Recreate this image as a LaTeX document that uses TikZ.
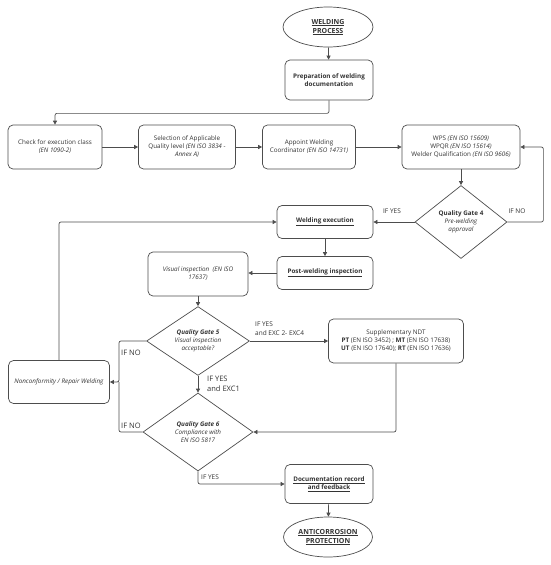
\documentclass[tikz,border=0pt]{standalone}
\usepackage{fontspec}
\setmainfont{Open Sans}
\usetikzlibrary{shapes.geometric,arrows.meta}
\definecolor{lc}{HTML}{4D4D4D}
\definecolor{tc}{HTML}{333333}
\begin{document}
\begin{tikzpicture}[x=1pt,y=-1pt,
 every node/.style={text=tc, font=\fontsize{6.3}{8}\selectfont},
 box/.style={draw=lc, fill=white, line width=0.7pt, rounded corners=5pt, align=center, inner sep=1pt},
 gate/.style={draw=lc, fill=white, line width=0.7pt, diamond, align=center, inner sep=0pt},
 term/.style={draw=lc, fill=white, line width=0.7pt, ellipse, align=center, inner sep=0pt, font=\fontsize{7}{9}\selectfont\bfseries},
 conn/.style={draw=lc, line width=0.7pt, -{Triangle[length=4pt,width=4pt]}, rounded corners=2pt},
 plain/.style={draw=lc, line width=0.7pt, rounded corners=2pt},
 lab/.style={font=\fontsize{6.5}{8.5}\selectfont, align=left, inner sep=0pt},
 labb/.style={font=\fontsize{7.5}{9.5}\selectfont, align=left, inner sep=0pt}]
\useasboundingbox (0,0) rectangle (550,565);
\fill[white] (0,0) rectangle (550,565);

\node[term, minimum width=90pt, minimum height=40pt] (wp) at (328,27) {\underline{WELDING}\\\underline{PROCESS}};
\node[box, font=\fontsize{6.3}{8}\selectfont\bfseries, minimum width=88pt, minimum height=40pt] (prep) at (329,80) {Preparation of welding\\documentation};
\node[box, minimum width=94pt, minimum height=44pt] (check) at (55,147) {Check for execution class\\\textit{(EN 1090-2)}};
\node[box, minimum width=97pt, minimum height=44pt] (sel) at (187,147) {Selection of Applicable\\Quality level \textit{(EN ISO 3834 -}\\\textit{Annex A)}};
\node[box, minimum width=93pt, minimum height=44pt] (app) at (309,147) {Appoint Welding\\Coordinator \textit{(EN ISO 14731)}};
\node[box, minimum width=118pt, minimum height=44pt] (wps) at (461,147) {WPS \textit{(EN ISO 15609)}\\WPQR \textit{(EN ISO 15614)}\\Welder Qualification \textit{(EN ISO 9606)}};
\node[gate, minimum width=92pt, minimum height=73pt] (qg4) at (461,222) {\textbf{Quality Gate 4}\\\textit{Pre-welding}\\\textit{approval}};
\node[box, minimum width=96pt, minimum height=33pt] (we) at (325,222) {\textbf{\underline{Welding execution}}};
\node[box, minimum width=96pt, minimum height=33pt] (pw) at (325,273) {\textbf{\underline{Post-welding inspection}}};
\node[box, minimum width=100pt, minimum height=44pt] (vi) at (198,274) {\textit{Visual inspection\ \ (EN ISO}\\\textit{17637)}};
\node[gate, minimum width=103pt, minimum height=63pt] (qg5) at (198,341) {\textbf{\textit{Quality Gate 5}}\\\textit{Visual inspection}\\\textit{acceptable?}};
\node[box, minimum width=135pt, minimum height=44pt] (ndt) at (396,341) {Supplementary NDT\\\textbf{PT} (EN ISO 3452) ; \textbf{MT} (EN ISO 17638)\\\textbf{UT} (EN ISO 17640); \textbf{RT} (EN ISO 17636)};
\node[gate, minimum width=110pt, minimum height=78pt] (qg6) at (198,432) {\textbf{\textit{Quality Gate 6}}\\\textit{Compliance with}\\\textit{EN ISO 5817}};
\node[box, minimum width=101pt, minimum height=43pt] (nc) at (59,382) {\textit{Nonconformity / Repair Welding}};
\node[box, minimum width=88pt, minimum height=39pt] (doc) at (329,484) {\textbf{\underline{Documentation record}}\\\textbf{\underline{and feedback}}};
\node[term, minimum width=89pt, minimum height=40pt] (ac) at (328,537) {\underline{ANTICORROSION}\\\underline{PROTECTION}};

\coordinate (lj) at (119,382);

\draw[conn] (wp) -- (prep);
\draw[conn] (prep.south) -- ++(0,13) -| (check.north);
\draw[conn] (check) -- (sel);
\draw[conn] (sel) -- (app);
\draw[conn] (app) -- (wps);
\draw[conn] (wps) -- (qg4);
\draw[conn] (qg4.east) -- ++(36,0) |- (wps.east);
\draw[conn] (qg4.west) -- (we.east);
\draw[conn] (we) -- (pw);
\draw[conn] (pw.west) -- (pw.west -| vi.east);
\draw[conn] (vi) -- (qg5);
\draw[conn] (qg5.east) -- (ndt.west);
\draw[conn] (qg5.south) -- (qg6.north);
\draw[conn] (ndt.south) |- (qg6.east);
\draw[conn] (qg5.west) -| (lj) -- (nc.east);
\draw[plain] (qg6.west) -| (lj);
\draw[conn] (nc.north) |- (we.west);
\draw[conn] (qg6.south) |- (doc.west);
\draw[conn] (doc) -- (ac);

\node[lab] (l1) at (392,211) {IF YES};
\node[lab] (l2) at (517,211) {IF NO};
\node[lab, anchor=west] (l3) at (255,328.5) {IF YES\\and EXC 2- EXC4};
\node[labb, anchor=west] (l4) at (207,384) {IF YES\\and EXC1};
\node[labb, anchor=west] (l5) at (121,353) {IF NO};
\node[labb, anchor=west] (l6) at (121,426) {IF NO};
\node[lab, anchor=west] (l7) at (201,477) {IF YES};
\end{tikzpicture}
\end{document}
